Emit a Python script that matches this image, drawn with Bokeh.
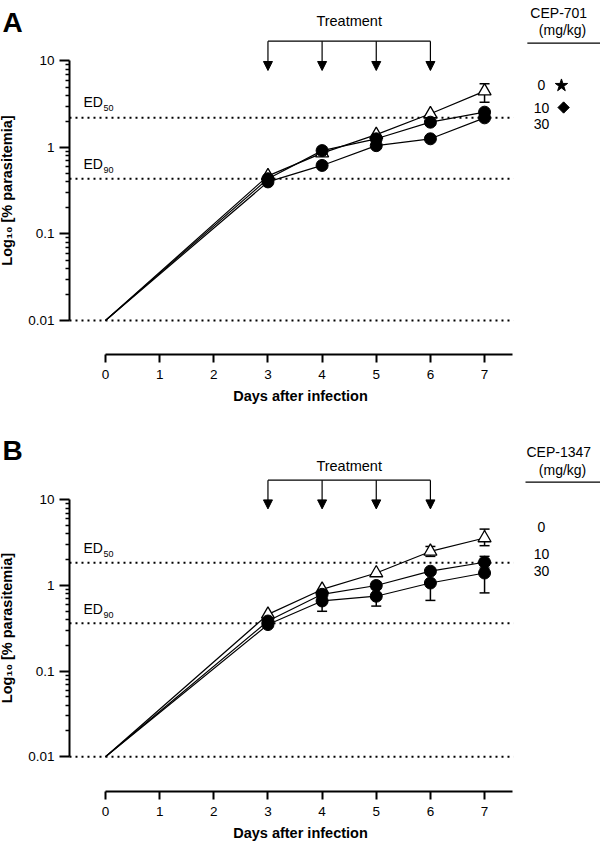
import math
from bokeh.plotting import figure
from bokeh.models import (Range1d, FixedTicker, Label, Arrow, NormalHead, Whisker,
                          TeeHead, ColumnDataSource, CustomJSTickFormatter)
from bokeh.layouts import column
from bokeh.embed import file_html
from bokeh.resources import INLINE

FONT = "Liberation Sans"

# ---------------- data ----------------
days = [0, 3, 4, 5, 6, 7]
day_ticks = [0, 1, 2, 3, 4, 5, 6, 7]
treat_days = [3, 4, 5, 6]
y_ticks = [0.01, 0.1, 1, 10]
y_minor = [m * 10.0 ** e for e in (-2, -1, 0) for m in range(2, 10)]

# Panel A: CEP-701 (mg/kg)
a_dose0 = [0.01, 0.47, 0.86, 1.41, 2.45, 4.48]
a_dose10 = [0.01, 0.435, 0.92, 1.26, 1.96, 2.56]
a_dose30 = [0.01, 0.40, 0.62, 1.05, 1.26, 2.20]
a_err_day = [7]
a_err_lo = [3.34]
a_err_hi = [5.45]
a_ed50 = 2.2
a_ed90 = 0.435

# Panel B: CEP-1347 (mg/kg)
b_dose0 = [0.01, 0.46, 0.90, 1.40, 2.50, 3.59]
b_dose10 = [0.01, 0.385, 0.79, 1.00, 1.47, 1.87]
b_dose30 = [0.01, 0.35, 0.66, 0.75, 1.07, 1.40]
b_err_day = [6, 7, 7, 4, 5, 6, 7]
b_err_lo = [2.19, 2.92, 1.60, 0.50, 0.575, 0.67, 0.82]
b_err_hi = [2.86, 4.56, 2.19, 0.82, 0.92, 1.45, 1.95]
b_ed50 = 1.84
b_ed90 = 0.362

doses = ["0", "10", "30"]

X_LO, X_HI = -1.939, 9.141   # frame spans full figure width
Y_AXIS_AT = -0.665           # day position of the y axis line
DOT_END = 7.535


def add_label(p, x, y, text, size="14px", align="center", style="normal",
              x_offset=0, font=FONT):
    p.add_layout(Label(x=x, y=y, text=text, text_align=align, text_baseline="middle",
                       text_font_size=size, text_font_style=style, text_font=font,
                       text_color="black", x_offset=x_offset))


def make_panel(h, bottom_border, l_lo, l_hi, letter, letter_l, series, err, eds, ed_text_l,
               treat_l, bracket_l, tip_l, drug, drug_l, unit_l, rule_x0, rule_l,
               dose_l, dose_markers):
    p = figure(width=600, height=h, x_range=Range1d(X_LO, X_HI),
               y_range=Range1d(10 ** l_lo, 10 ** l_hi), y_axis_type="log",
               output_backend="svg", toolbar_location=None,
               min_border_left=0, min_border_right=0, min_border_top=0,
               min_border_bottom=bottom_border)
    p.outline_line_color = None
    p.grid.visible = False
    p.background_fill_color = "white"
    p.border_fill_color = "white"

    xa = p.xaxis[0]
    xa.bounds = (0, 7.52)
    xa.ticker = FixedTicker(ticks=day_ticks)
    xa.minor_tick_line_color = None
    xa.major_tick_out = 8
    xa.major_tick_in = 0
    xa.axis_line_width = 2
    xa.major_tick_line_width = 2
    xa.major_label_text_font = FONT
    xa.major_label_text_font_size = "13.5px"
    xa.major_label_text_color = "black"
    xa.major_label_standoff = 7
    xa.axis_label = "Days after infection"
    xa.axis_label_text_font = FONT
    xa.axis_label_text_font_style = "bold"
    xa.axis_label_text_font_size = "14.5px"
    xa.axis_label_text_color = "black"
    xa.axis_label_standoff = 6

    ya = p.yaxis[0]
    ya.fixed_location = Y_AXIS_AT
    ya.bounds = (0.01, 10)
    ya.ticker = FixedTicker(ticks=y_ticks, minor_ticks=y_minor)
    ya.formatter = CustomJSTickFormatter(code="return String(parseFloat(tick.toPrecision(4)));")
    ya.major_tick_out = 10
    ya.major_tick_in = 0
    ya.minor_tick_out = 4
    ya.minor_tick_in = 0
    ya.axis_line_width = 2
    ya.major_tick_line_width = 2
    ya.minor_tick_line_width = 1.5
    ya.major_label_text_font = FONT
    ya.major_label_text_font_size = "13.5px"
    ya.major_label_text_color = "black"
    ya.major_label_standoff = 5
    ya.axis_label = "Log\u2081\u2080 [% parasitemia]"
    ya.axis_label_text_font = FONT
    ya.axis_label_text_font_style = "bold"
    ya.axis_label_text_font_size = "14.5px"
    ya.axis_label_text_color = "black"
    ya.axis_label_standoff = 10

    # reference lines (0.01, ED50, ED90)
    ref_vals = [0.01] + list(eds)
    p.segment(x0=[Y_AXIS_AT] * 3, x1=[DOT_END] * 3, y0=ref_vals, y1=ref_vals,
              line_color="black", line_width=2, line_dash="2 4")
    for (name, ed_l, sub_l) in zip(["50", "90"], ed_text_l[0::2], ed_text_l[1::2]):
        add_label(p, -0.406, 10 ** ed_l, "ED", size="14px", align="left")
        add_label(p, -0.406, 10 ** sub_l, name, size="9px", align="left", x_offset=20)

    # whiskers
    src = ColumnDataSource(dict(base=err[0], lower=err[1], upper=err[2]))
    p.add_layout(Whisker(source=src, base="base", lower="lower", upper="upper",
                         line_color="black", line_width=1.5,
                         upper_head=TeeHead(size=10, line_width=1.5, line_color="black"),
                         lower_head=TeeHead(size=10, line_width=1.5, line_color="black")))

    # series
    for vals in series:
        p.line(days, vals, line_color="black", line_width=1.2)
    p.scatter(days[1:], series[0][1:], marker="triangle", size=13,
              fill_color="white", line_color="black", line_width=1.3)
    for vals in series[1:]:
        p.scatter(days[1:], vals[1:], marker="circle", size=12,
                  fill_color="black", line_color="black")

    # treatment bracket
    p.segment(x0=[min(treat_days)], x1=[max(treat_days)], y0=[10 ** bracket_l],
              y1=[10 ** bracket_l], line_color="black", line_width=1.2)
    for d in treat_days:
        p.add_layout(Arrow(x_start=d, y_start=10 ** bracket_l, x_end=d, y_end=10 ** tip_l,
                           line_color="black", line_width=1.2,
                           end=NormalHead(size=9, fill_color="black", line_color="black",
                                          line_width=1)))
    add_label(p, sum(treat_days) / len(treat_days), 10 ** treat_l, "Treatment", size="14.5px")

    # legend block
    add_label(p, 8.37, 10 ** drug_l, drug, size="14px")
    add_label(p, 8.44, 10 ** unit_l, "(mg/kg)", size="14px")
    p.segment(x0=[rule_x0], x1=[X_HI], y0=[10 ** rule_l], y1=[10 ** rule_l],
              line_color="black", line_width=1.2)
    for dose, dl in zip(doses, dose_l):
        add_label(p, 8.05, 10 ** dl, dose, size="14px")
    for (mk, xm, dl, ang, sz) in dose_markers:
        p.scatter([xm], [10 ** dl], marker=mk, size=sz, angle=ang,
                  fill_color="black", line_color="black")

    # panel letter
    add_label(p, -1.90, 10 ** letter_l, letter, size="28px", align="left", style="bold")
    return p


pA = make_panel(h=434, bottom_border=80, l_lo=-2.393, l_hi=1.699, letter="A", letter_l=1.445,
                series=[a_dose0, a_dose10, a_dose30],
                err=(a_err_day, a_err_lo, a_err_hi),
                eds=(a_ed50, a_ed90), ed_text_l=[0.520, 0.451, -0.189, -0.266],
                treat_l=1.457, bracket_l=1.229, tip_l=0.890,
                drug="CEP-701", drug_l=1.549, unit_l=1.353, rule_x0=7.79, rule_l=1.206,
                dose_l=[0.717, 0.462, 0.266],
                dose_markers=[("star", 8.42, 0.717, 0, 13),
                              ("square", 8.46, 0.462, math.pi / 4, 8)])

pB = make_panel(h=409, bottom_border=49, l_lo=-2.406, l_hi=1.764, letter="B", letter_l=1.579,
                series=[b_dose0, b_dose10, b_dose30],
                err=(b_err_day, b_err_lo, b_err_hi),
                eds=(b_ed50, b_ed90), ed_text_l=[0.440, 0.371, -0.275, -0.344],
                treat_l=1.393, bracket_l=1.231, tip_l=0.895,
                drug="CEP-1347", drug_l=1.556, unit_l=1.347, rule_x0=7.756, rule_l=1.208,
                dose_l=[0.687, 0.363, 0.166], dose_markers=[])

layout = column(pA, pB, spacing=0)
open("out.html", "w").write(file_html(layout, INLINE))
